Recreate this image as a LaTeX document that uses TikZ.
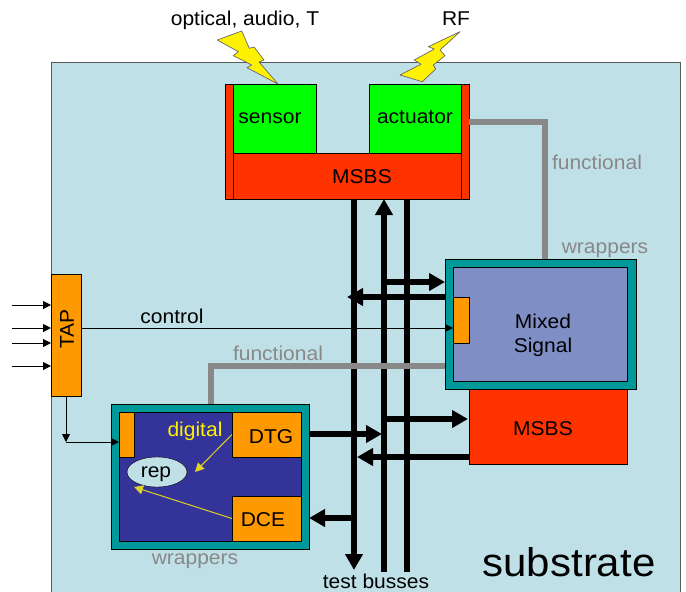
\documentclass[tikz,border=0pt]{standalone}
\usepackage{fontspec}
\setmainfont[FakeStretch=1.05]{Liberation Sans}
\usepackage{xcolor}
\usetikzlibrary{arrows.meta,shapes.geometric}
\definecolor{substratebg}{HTML}{C0E0E8}
\definecolor{wrapteal}{HTML}{009999}
\definecolor{mixedblue}{HTML}{7F8FC6}
\definecolor{digitalblue}{HTML}{333399}
\definecolor{taporange}{HTML}{FF9900}
\definecolor{msbsred}{HTML}{FF3300}
\definecolor{funcgrey}{HTML}{888888}
\begin{document}
\begin{tikzpicture}[x=1pt,y=-1pt]
        \tikzset{every node/.style={font=\fontsize{20}{24}\selectfont},
            box/.style={draw=black,line width=0.8pt,inner sep=0,outer sep=0,anchor=north west},
            lbl/.style={inner sep=0,outer sep=0,align=center},
            greylbl/.style={lbl,text=funcgrey},
            bus/.style={line width=6pt,draw=black},
            bushead/.style={-{Triangle[width=17pt,length=16pt]}},
            wire/.style={draw=black,line width=1pt,-{Triangle[width=8pt,length=8pt]}},
            repwire/.style={draw=yellow!85!black,line width=1pt,-{Triangle[width=9pt,length=9pt]}},
            func/.style={draw=funcgrey,line width=6pt},
            bolt/.style={fill=yellow,draw=black!60,line width=0.7pt,line join=round}}
        \useasboundingbox (0,0) rectangle (686,592);

        \node[box,draw=black!65,fill=substratebg,minimum width=629pt,minimum height=540pt] (substrate) at (51,62) {};
        \node[lbl,font=\fontsize{40}{44}\selectfont] (substratelbl) at (569,562) {substrate};

        \fill[bolt] (217.3,40) -- (241.7,31) -- (249.3,48.3) -- (254,47) -- (264,60) -- (259,62) -- (278,84)
            -- (247,67.7) -- (251.7,65) -- (233.3,55.7) -- (238.3,51.7) -- cycle;
        \fill[bolt] (460,31.7) -- (440,50) -- (445,55.7) -- (433.3,65) -- (435.7,69) -- (422.3,81.7) -- (400,75)
            -- (421,64.3) -- (414.3,60) -- (434.3,49) -- (428.3,46.7) -- cycle;
        \node[lbl] (opticallbl) at (245,20) {optical, audio, T};
        \node[lbl] (rflbl) at (456,19) {RF};

        % top block
        \node[box,fill=msbsred,minimum width=8pt,minimum height=115pt] (msbsleft) at (225,84) {};
        \node[box,fill=msbsred,minimum width=8pt,minimum height=115pt] (msbsright) at (461,84) {};
        \node[box,fill=msbsred,minimum width=228pt,minimum height=46pt] (msbstop) at (233,153) {};
        \node[box,fill=green,minimum width=83pt,minimum height=69pt] (sensor) at (233,84) {};
        \node[box,fill=green,minimum width=92pt,minimum height=69pt] (actuator) at (369,84) {};
        \node[lbl] (sensorlbl) at (270,118) {sensor};
        \node[lbl] (actuatorlbl) at (415,117) {actuator};
        \node[lbl] (msbstoplbl) at (362,177) {MSBS};

        % mixed signal block
        \node[box,fill=msbsred,minimum width=158pt,minimum height=76pt] (msbsmix) at (469,388) {};
        \node[box,fill=wrapteal,minimum width=191pt,minimum height=130pt] (mixed) at (445,259) {};
        \node[box,fill=mixedblue,minimum width=174pt,minimum height=114pt] (mixedin) at (453,267) {};
        \node[box,fill=taporange,minimum width=16pt,minimum height=46pt] (mixedtap) at (453,297) {};
        \node[lbl] (mixedlbl) at (543,335) {Mixed\\Signal};
        \node[lbl] (msbsmixlbl) at (543,429) {MSBS};

        % digital block
        \node[box,fill=wrapteal,minimum width=198pt,minimum height=145pt] (digital) at (111,404) {};
        \node[box,fill=digitalblue,minimum width=182pt,minimum height=129pt] (digitalin) at (119,412) {};
        \node[box,fill=taporange,minimum width=15pt,minimum height=45pt] (digitaltap) at (119,412) {};
        \node[box,fill=taporange,minimum width=69pt,minimum height=45pt] (dtg) at (232,412) {};
        \node[box,fill=taporange,minimum width=69pt,minimum height=45pt] (dce) at (232,496) {};
        \node[lbl] (dtglbl) at (271,437) {DTG};
        \node[lbl] (dcelbl) at (263,520) {DCE};
        \node[lbl,text=yellow] (digitallbl) at (195,431) {digital};
        \node[draw=black,fill=substratebg,ellipse,minimum width=60pt,minimum height=30pt,inner sep=0] (rep) at (157,472) {};
        \node[lbl] (replbl) at (156,474) {rep};

        \node[box,fill=taporange,minimum width=30pt,minimum height=122pt] (tap) at (51,274) {};
        \node[lbl,rotate=90] (taplbl) at (67,329) {TAP};

        % test busses
        \coordinate (busa) at (354,570);
        \coordinate (busb) at (384,572);
        \coordinate (busc) at (407,572);
        \draw[bus,bushead] (msbstop.south -| busa) -- (busa);
        \draw[bus,bushead] (busb) -- (msbstop.south -| busb);
        \draw[bus] (msbstop.south -| busc) -- (busc);

        \coordinate (mixin) at (445,282);
        \coordinate (mixout) at (347,297);
        \coordinate (msbsmixin) at (468,419);
        \coordinate (msbsmixout) at (357,457);
        \coordinate (dtgout) at (382,434);
        \coordinate (dcein) at (309,518);
        \draw[bus,bushead] (busb |- mixin) -- (mixin);
        \draw[bus,bushead] (mixed.west |- mixout) -- (mixout);
        \draw[bus,bushead] (busb |- msbsmixin) -- (msbsmixin);
        \draw[bus,bushead] (msbsmix.west |- msbsmixout) -- (msbsmixout);
        \draw[bus,bushead] (digital.east |- dtgout) -- (dtgout);
        \draw[bus,bushead] (busa |- dcein) -- (dcein);

        % functional wires
        \coordinate (funcbend) at (211,366);
        \coordinate (acttop) at (545,122);
        \draw[func] (mixed.west |- funcbend) -- (funcbend) -- (digital.north -| funcbend);
        \draw[func] (msbsright.east |- acttop) -- (acttop) -- (mixed.north -| acttop);
        \node[greylbl] (functoplbl) at (597,162) {functional};
        \node[greylbl] (funcbotlbl) at (278,353) {functional};
        \node[greylbl] (wraptoplbl) at (605,250) {wrappers};
        \node[greylbl] (wrapbotlbl) at (195,561) {wrappers};

        % control wires
        \foreach \y in {305,328,343,366} {
            \coordinate (tapin) at (12,\y);
            \draw[wire] (tapin) -- (tap.west |- tapin);
        }
        \coordinate (ctl) at (453,328);
        \coordinate (digin) at (119,442);
        \coordinate (tapdrop) at (tap.south |- digin);
        \draw[wire] (tap.east |- ctl) -- (ctl);
        \draw[wire] (tap.south) -- (tapdrop);
        \draw[wire] (tapdrop) -- (digin);
        \node[lbl] (controllbl) at (172,316) {control};

        \coordinate (repa) at (195,472);
        \coordinate (repb) at (134,487);
        \draw[repwire] (dtg.west) -- (repa);
        \draw[repwire] (dce.west) -- (repb);

        \node[lbl] (busseslbl) at (376,581) {test busses};
\end{tikzpicture}
\end{document}
